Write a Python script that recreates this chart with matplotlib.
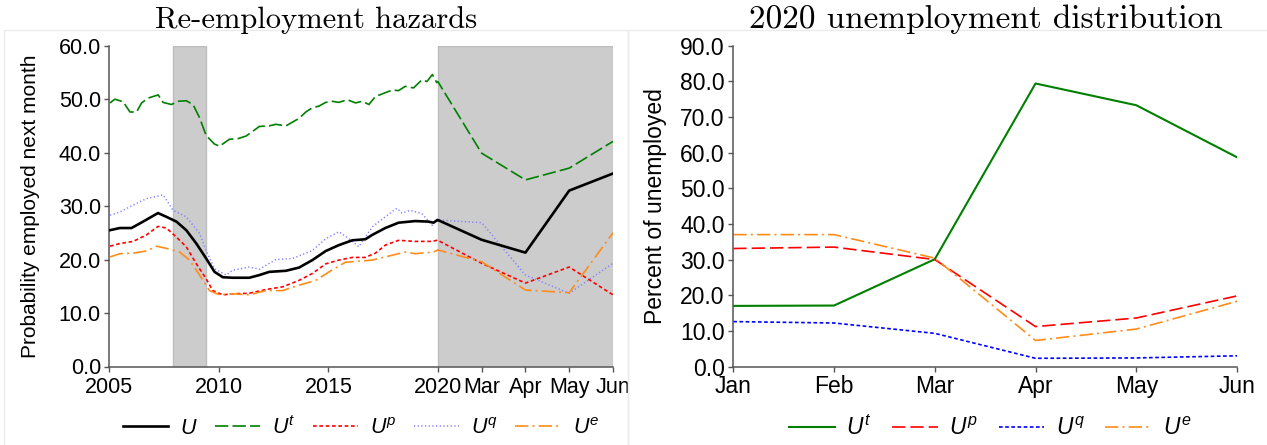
import matplotlib
matplotlib.use('Agg')
import matplotlib.pyplot as plt
from matplotlib.patches import Rectangle

plt.rcParams['font.family'] = ['Liberation Sans', 'DejaVu Sans']
plt.rcParams['mathtext.fontset'] = 'custom'
plt.rcParams['mathtext.it'] = 'Liberation Sans:italic'
plt.rcParams['mathtext.rm'] = 'Liberation Sans'
plt.rcParams['mathtext.sf'] = 'Liberation Sans'

# ---------------- data: re-employment hazards (2005 - Feb 2020) ----------------
u_years = [2005.03, 2005.48, 2006.01, 2006.54, 2007.22, 2007.60, 2008.06, 2008.51, 2008.97,
           2009.42, 2009.80, 2010.18, 2010.63, 2011.39, 2011.85, 2012.30, 2013.06, 2013.66,
           2014.27, 2014.88, 2015.48, 2016.09, 2016.69, 2017.00, 2017.60, 2018.21, 2018.97,
           2019.57, 2019.80, 2019.95]
u_vals = [25.5, 25.9, 25.9, 27.1, 28.7, 28.0, 27.1, 25.5, 23.0,
          20.2, 17.7, 16.7, 16.6, 16.6, 17.1, 17.7, 17.9, 18.5,
          19.9, 21.6, 22.7, 23.6, 23.8, 24.6, 25.9, 26.9, 27.2,
          27.1, 26.9, 27.3]

ut_years = [2005.03, 2005.25, 2005.63, 2005.94, 2006.24, 2006.47, 2006.77, 2007.23, 2007.45,
            2007.83, 2008.14, 2008.51, 2008.82, 2009.12, 2009.42, 2009.80, 2010.03, 2010.48,
            2010.86, 2011.24, 2011.55, 2011.85, 2012.30, 2012.60, 2013.06, 2013.36, 2013.66,
            2013.97, 2014.27, 2014.57, 2014.88, 2015.18, 2015.48, 2015.86, 2016.24, 2016.55,
            2016.85, 2017.15, 2017.60, 2017.91, 2018.21, 2018.51, 2018.89, 2019.27, 2019.50,
            2019.75, 2019.95]
ut_vals = [49.3, 50.0, 49.5, 47.6, 47.6, 49.3, 50.2, 50.8, 49.4,
           49.0, 49.6, 49.7, 49.0, 46.5, 43.2, 41.6, 41.2, 42.5,
           42.6, 43.1, 44.0, 44.9, 45.0, 45.3, 45.0, 45.7, 46.4,
           47.6, 48.4, 48.7, 49.4, 49.6, 49.4, 49.9, 49.3, 49.6,
           49.0, 50.5, 51.2, 51.7, 51.6, 52.4, 52.1, 53.6, 53.3,
           54.6, 53.1]

up_years = [2005.03, 2005.48, 2006.09, 2006.69, 2007.22, 2007.60, 2008.06, 2008.51, 2008.97,
            2009.42, 2009.72, 2010.18, 2010.63, 2011.39, 2012.15, 2012.91, 2013.66, 2014.27,
            2014.88, 2015.48, 2016.09, 2016.69, 2017.15, 2017.60, 2018.21, 2018.97, 2019.75,
            2019.95]
up_vals = [22.5, 23.0, 23.4, 24.6, 26.2, 25.9, 24.2, 22.4, 19.2,
           16.4, 14.2, 13.4, 13.6, 13.7, 14.4, 14.9, 16.1, 17.4,
           19.2, 19.9, 20.4, 20.4, 21.2, 22.7, 23.6, 23.4, 23.4,
           23.6]

uq_years = [2005.03, 2005.48, 2006.09, 2006.69, 2007.45, 2007.91, 2008.51, 2009.12, 2009.42,
            2009.80, 2010.33, 2010.63, 2011.39, 2011.85, 2012.60, 2013.36, 2014.27, 2014.88,
            2015.48, 2015.94, 2016.39, 2017.00, 2017.60, 2018.13, 2018.36, 2018.74, 2019.27,
            2019.75, 2019.95]
uq_vals = [28.3, 28.9, 30.2, 31.4, 32.1, 29.2, 28.0, 24.9, 21.7,
           18.3, 17.1, 18.0, 18.6, 18.2, 20.0, 20.2, 21.7, 23.9,
           25.2, 23.9, 22.4, 26.1, 28.0, 29.6, 28.7, 29.2, 28.6,
           26.4, 27.5]

ue_years = [2005.03, 2005.48, 2006.09, 2006.69, 2007.15, 2007.60, 2008.21, 2008.66, 2009.12,
            2009.57, 2010.03, 2010.63, 2011.39, 2012.15, 2012.91, 2013.66, 2014.42, 2015.03,
            2015.78, 2016.39, 2017.00, 2017.60, 2018.51, 2018.97, 2019.80]
ue_vals = [20.5, 21.1, 21.2, 21.6, 22.5, 22.1, 21.4, 19.9, 17.1,
           14.2, 13.4, 13.6, 13.4, 14.2, 14.2, 15.2, 16.1, 17.7,
           19.5, 19.7, 19.9, 20.5, 21.4, 21.1, 21.4]

# 2020 monthly values
months_2020 = ['Feb', 'Mar', 'Apr', 'May', 'Jun']
u_2020 = [27.4, 23.7, 21.3, 32.9, 36.1]
ut_2020 = [53.3, 39.9, 34.9, 37.1, 42.1]
up_2020 = [23.6, 19.3, 15.6, 18.6, 13.4]
uq_2020 = [27.4, 26.9, 17.1, 13.7, 19.3]
ue_2020 = [21.8, 19.6, 14.3, 13.8, 25.0]

recession_years = [(2007.92, 2009.42)]
recession_2020 = ('Feb', 'Jun')

year_ticks = [2005, 2010, 2015, 2020]
month_ticks = ['Mar', 'Apr', 'May', 'Jun']

# ---------------- data: 2020 unemployment distribution ----------------
dist_months = ['Jan', 'Feb', 'Mar', 'Apr', 'May', 'Jun']
dist_ut = [17.0, 17.1, 30.1, 79.4, 73.3, 58.7]
dist_up = [33.1, 33.5, 30.0, 11.2, 13.6, 19.8]
dist_uq = [12.6, 12.2, 9.3, 2.3, 2.4, 3.0]
dist_ue = [37.0, 37.0, 30.4, 7.3, 10.5, 18.3]

# ---------------- helpers for the broken time axis ----------------
def ypos(y):
    return y - 2005.0

def mpos(m):
    return 15 + 2 * months_2020.index(m)

def series(years, vals, v2020):
    xs = [ypos(y) for y in years] + [mpos(m) for m in months_2020]
    return xs, list(vals) + list(v2020)

W, H = 1267, 445
fig = plt.figure(figsize=(W / 100, H / 100), dpi=100)

# light panel borders
for x0, x1 in [(4, 628), (628, 1290)]:
    fig.patches.append(Rectangle((x0 / W, -0.05), (x1 - x0) / W, (H - 30) / H + 0.05,
                                 transform=fig.transFigure, fill=False,
                                 edgecolor='#ebebeb', linewidth=1.0, zorder=0))

ax_bottom = 1 - 366.5 / H
ax_height = (366.5 - 45.7) / H
ax1 = fig.add_axes([109.4 / W, ax_bottom, (613.0 - 109.4) / W, ax_height])
ax2 = fig.add_axes([733.3 / W, ax_bottom, (1237.0 - 733.3) / W, ax_height])

spine_c = '#555555'
for ax, fs, xpad in ((ax1, 15.5, 4.2), (ax2, 16.5, 2.5)):
    for s in ('top', 'right'):
        ax.spines[s].set_visible(False)
    for s in ('left', 'bottom'):
        ax.spines[s].set_color(spine_c)
        ax.spines[s].set_linewidth(1.1)
    ax.tick_params(axis='both', colors=spine_c, labelcolor='black', length=3.6,
                   width=1.0, labelsize=fs)
    ax.tick_params(axis='x', pad=xpad)
    ax.tick_params(axis='y', pad=2.5)
    ax.yaxis.set_major_formatter(matplotlib.ticker.FormatStrFormatter('%.1f'))

# ---------------- left panel ----------------
for a, b in recession_years:
    ax1.axvspan(ypos(a), ypos(b), facecolor='#cccccc', edgecolor='#bdbdbd', lw=1.0, zorder=1)
ax1.axvspan(mpos(recession_2020[0]), mpos(recession_2020[1]), facecolor='#cccccc',
            edgecolor='#bdbdbd', lw=1.0, zorder=1)

x, y = series(u_years, u_vals, u_2020)
ax1.plot(x, y, color='black', lw=1.9, zorder=5, label='$U$')
x, y = series(ut_years, ut_vals, ut_2020)
ax1.plot(x, y, color='#008000', lw=1.2, dashes=(8, 2.5), zorder=4, label='$U^t$')
x, y = series(up_years, up_vals, up_2020)
ax1.plot(x, y, color='#ff0000', lw=1.2, dashes=(2.2, 1.6), zorder=4, label='$U^p$')
x, y = series(uq_years, uq_vals, uq_2020)
ax1.plot(x, y, color='#8080ff', lw=1.1, dashes=(0.8, 1.6), zorder=3, label='$U^q$')
x, y = series(ue_years, ue_vals, ue_2020)
ax1.plot(x, y, color='#ff8c1a', lw=1.2, dashes=(8, 2.5, 1.2, 2.5), zorder=4, label='$U^e$')

ax1.set_xlim(0, mpos('Jun'))
ax1.set_ylim(0, 60)
ax1.set_yticks([0, 10, 20, 30, 40, 50, 60])
ax1.set_xticks([ypos(t) for t in year_ticks] + [mpos(m) for m in month_ticks])
ax1.set_xticklabels([str(t) for t in year_ticks] + month_ticks)
ax1.set_ylabel('Probability employed next month', fontsize=15, va='center')
ax1.yaxis.set_label_coords(-0.156, 0.5)
ax1.legend(loc='center', bbox_to_anchor=(0.5, -0.19), ncol=5, frameon=False,
           fontsize=15.5, handlelength=2.1, handletextpad=0.55, columnspacing=0.8)

# ---------------- right panel ----------------
xm = list(range(len(dist_months)))
ax2.plot(xm, dist_ut, color='#008000', lw=1.5, label='$U^t$')
ax2.plot(xm, dist_up, color='#ff0000', lw=1.2, dashes=(8, 3), label='$U^p$')
ax2.plot(xm, dist_uq, color='#0000ff', lw=1.2, dashes=(2.2, 1.5), label='$U^q$')
ax2.plot(xm, dist_ue, color='#ff8c1a', lw=1.2, dashes=(8, 2.5, 1.2, 2.5), label='$U^e$')
ax2.set_xlim(0, len(dist_months) - 1)
ax2.set_ylim(0, 90)
ax2.set_yticks(range(0, 91, 10))
ax2.set_xticks(xm)
ax2.set_xticklabels(dist_months)
ax2.set_ylabel('Percent of unemployed', fontsize=16.5, va='center')
ax2.yaxis.set_label_coords(-0.155, 0.5)
ax2.legend(loc='center', bbox_to_anchor=(0.51, -0.19), ncol=4, frameon=False,
           fontsize=16.5, handlelength=2.0, handletextpad=0.5, columnspacing=0.9)

# titles (serif, LaTeX-like)
fig.text(316 / W, 1 - 28 / H, 'Re-employment hazards', fontsize=22, family='cmr10',
         ha='center', va='baseline')
fig.text(986 / W, 1 - 28 / H, '2020 unemployment distribution', fontsize=24,
         family='cmr10', ha='center', va='baseline')

fig.savefig('out.png', dpi=100)
